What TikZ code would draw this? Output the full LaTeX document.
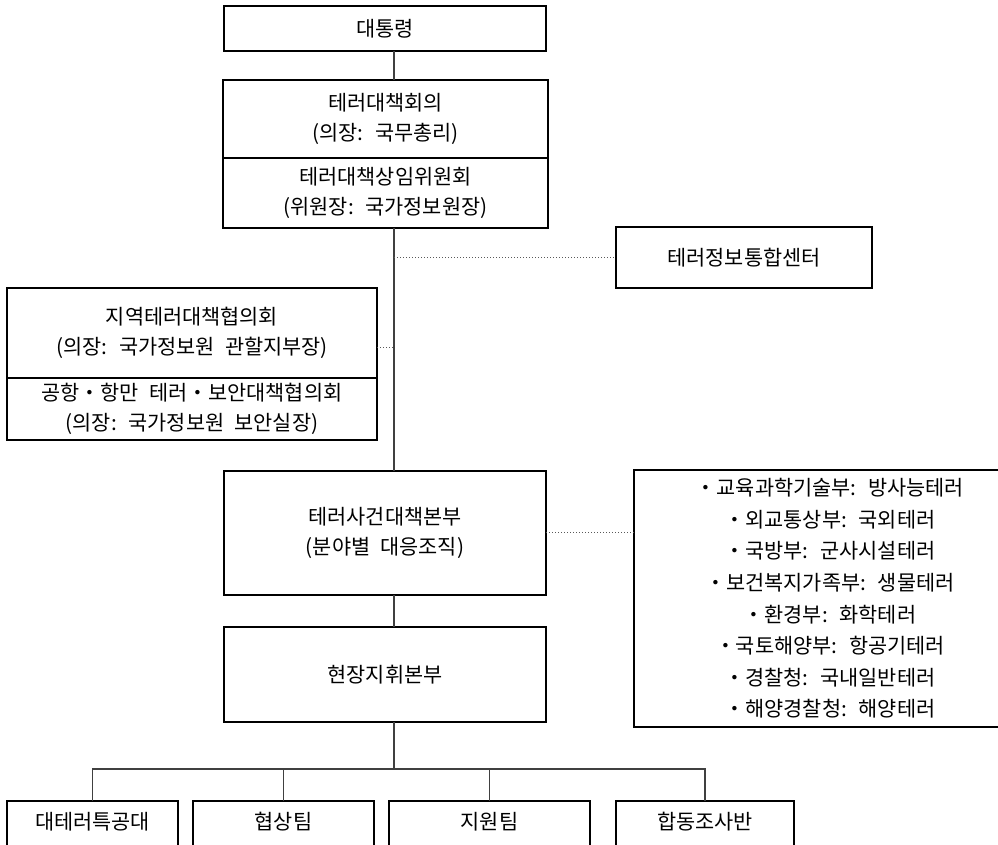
\documentclass[tikz,border=0pt]{standalone}
\usepackage{fontspec}
\setmainfont{Noto Sans CJK KR}[WordSpace=2.2]
\usetikzlibrary{positioning}
\tikzset{
    box/.style={
        rectangle,
        draw=black,
        line width=0.6pt,
        fill=white,
        align=center,
        inner sep=0pt,
        outer sep=0pt,
        font=\fontsize{10.4pt}{15pt}\selectfont
    },
    teambox/.style={
        box,
        anchor=north,
        text height=14pt,
        text depth=20pt
    },
    wire/.style={
        draw=black!75,
        line width=0.55pt
    },
    dotline/.style={
        draw=black!65,
        line width=0.5pt,
        dash pattern=on 0.5pt off 1pt
    }
}

\begin{document}
\begin{tikzpicture}[x=0.5pt, y=-0.5pt]

\useasboundingbox (0,0) rectangle (998,845);

\coordinate (spine) at (394,0);
\coordinate (bus) at (394,769);

\node[box, minimum width=161pt, minimum height=22.5pt] (pres) at (385,28.5) {대통령};
\node[box, minimum width=162.5pt, minimum height=39pt] (council) at (385.5,119) {테러대책회의\\(의장: 국무총리)};
\node[box, minimum width=162.5pt, minimum height=35pt, below=0pt of council] (standing) {테러대책상임위원회\\(위원장: 국가정보원장)};

\node[box, minimum width=128pt, minimum height=30.5pt] (info) at (744,257.5) {테러정보통합센터};

\node[box, minimum width=185pt, minimum height=45pt] (regtop) at (192,333) {지역테러대책협의회\\(의장: 국가정보원 관할지부장)};
\node[box, minimum width=185pt, minimum height=31pt, below=0pt of regtop] (regbot) {공항・항만 테러・보안대책협의회\\(의장: 국가정보원 보안실장)};

\node[box, minimum width=161pt, minimum height=62pt] (hq) at (385,533) {테러사건대책본부\\(분야별 대응조직)};
\node[box, minimum width=196pt, minimum height=128.5pt, font=\fontsize{10.4pt}{15.8pt}\selectfont] (list) at (830,598.5) {・교육과학기술부: 방사능테러\\・외교통상부: 국외테러\\・국방부: 군사시설테러\\・보건복지가족부: 생물테러\\・환경부: 화학테러\\・국토해양부: 항공기테러\\・경찰청: 국내일반테러\\・해양경찰청: 해양테러};

\node[box, minimum width=161pt, minimum height=47.5pt] (field) at (385,674.5) {현장지휘본부};

\node[teambox, minimum width=85.5pt] (team1) at (92.5,801) {대테러특공대};
\node[teambox, minimum width=90.5pt] (team2) at (283.5,801) {협상팀};
\node[teambox, minimum width=100.5pt] (team3) at (489.5,801) {지원팀};
\node[teambox, minimum width=89pt] (team4) at (705,801) {합동조사반};

% main line
\draw[wire] (pres.south -| spine) -- (council.north -| spine);
\draw[wire] (standing.south -| spine) -- (hq.north -| spine);
\draw[wire] (hq.south -| spine) -- (field.north -| spine);
\draw[wire] (field.south -| spine) -- (bus);

% teams
\draw[wire] (team1.north) |- (team4.north |- bus) -- (team4.north);
\draw[wire] (team2.north) -- (team2.north |- bus);
\draw[wire] (team3.north) -- (team3.north |- bus);

% dotted links
\draw[dotline] (info.west -| spine) -- (info.west);
\draw[dotline] ([yshift=-7.5pt]regtop.east) -- ([yshift=-7.5pt]regtop.east -| spine);
\draw[dotline] (hq.east) -- (hq.east -| list.west);

\end{tikzpicture}
\end{document}
